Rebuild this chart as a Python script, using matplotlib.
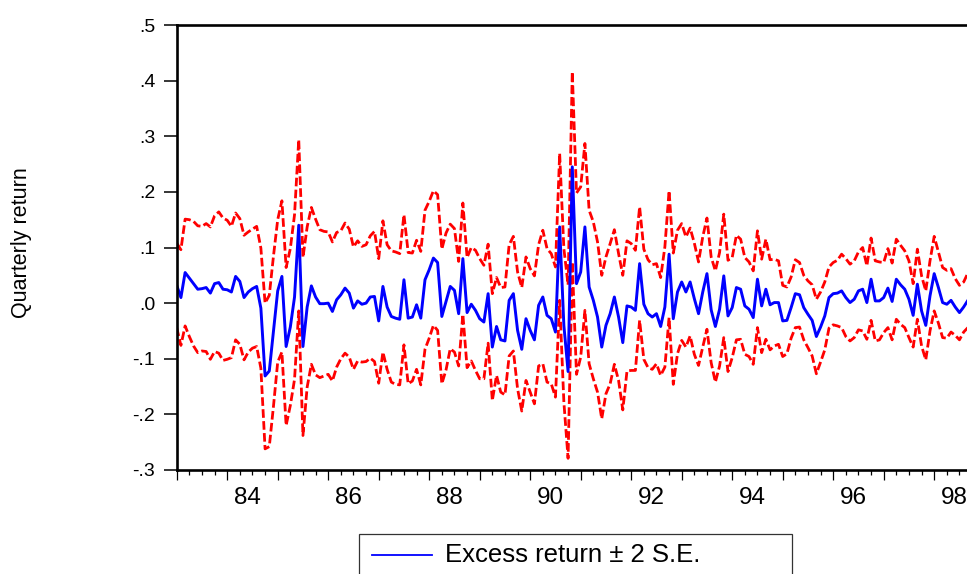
import numpy as np
import matplotlib
matplotlib.use("Agg")
import matplotlib.pyplot as plt
from matplotlib.lines import Line2D
from matplotlib.patches import Rectangle
from matplotlib.ticker import MultipleLocator

plt.rcParams['font.family'] = ['Liberation Sans', 'DejaVu Sans']

# monthly observations starting 1983M1
start_year = 1983
excess = [
    0.032, 0.010, 0.055, 0.045, 0.035, 0.025, 0.026, 0.028, 0.018, 0.035,
    0.037, 0.025, 0.024, 0.020, 0.048, 0.039, 0.010, 0.020, 0.026, 0.030,
    -0.009, -0.131, -0.122, -0.050, 0.022, 0.048, -0.078, -0.043, 0.011, 0.140,
    -0.078, -0.007, 0.031, 0.011, -0.001, -0.001, 0.000, -0.015, 0.006, 0.015,
    0.027, 0.018, -0.009, 0.004, -0.002, 0.000, 0.011, 0.012, -0.032, 0.030,
    -0.007, -0.024, -0.027, -0.029, 0.042, -0.027, -0.025, -0.003, -0.027, 0.042,
    0.060, 0.081, 0.073, -0.024, 0.003, 0.030, 0.023, -0.019, 0.080, -0.017,
    -0.002, -0.013, -0.028, -0.034, 0.017, -0.079, -0.042, -0.066, -0.068, 0.005,
    0.017, -0.049, -0.083, -0.028, -0.049, -0.066, -0.004, 0.011, -0.022, -0.028,
    -0.052, 0.137, -0.040, -0.123, 0.245, 0.035, 0.056, 0.137, 0.029, 0.005,
    -0.025, -0.079, -0.040, -0.019, 0.011, -0.025, -0.071, -0.005, -0.007, -0.013,
    0.071, -0.002, -0.019, -0.025, -0.019, -0.042, -0.007, 0.088, -0.028, 0.020,
    0.038, 0.020, 0.038, 0.008, -0.019, 0.020, 0.053, -0.012, -0.042, -0.011,
    0.049, -0.023, -0.008, 0.028, 0.025, -0.005, -0.011, -0.026, 0.043, -0.005,
    0.025, -0.003, 0.001, 0.001, -0.032, -0.031, -0.008, 0.017, 0.015, -0.008,
    -0.020, -0.031, -0.060, -0.043, -0.023, 0.010, 0.017, 0.018, 0.022, 0.010,
    0.001, 0.007, 0.022, 0.025, 0.001, 0.043, 0.004, 0.004, 0.010, 0.027,
    0.003, 0.043, 0.033, 0.025, 0.007, -0.022, 0.034, -0.014, -0.040, 0.013,
    0.053, 0.028, 0.001, -0.002, 0.005, -0.007, -0.017, -0.007, 0.005,
]
# two standard errors
two_se = [
    0.076, 0.086, 0.096, 0.105, 0.112, 0.114, 0.112, 0.115, 0.119, 0.122,
    0.127, 0.128, 0.125, 0.118, 0.114, 0.113, 0.112, 0.108, 0.107, 0.108,
    0.108, 0.131, 0.136, 0.135, 0.128, 0.136, 0.142, 0.141, 0.148, 0.154,
    0.160, 0.144, 0.141, 0.140, 0.133, 0.130, 0.128, 0.125, 0.121, 0.115,
    0.117, 0.115, 0.110, 0.108, 0.104, 0.105, 0.110, 0.117, 0.112, 0.118,
    0.112, 0.118, 0.119, 0.118, 0.117, 0.118, 0.115, 0.116, 0.120, 0.125,
    0.123, 0.121, 0.122, 0.121, 0.123, 0.112, 0.111, 0.094, 0.100, 0.099,
    0.102, 0.108, 0.108, 0.102, 0.089, 0.096, 0.088, 0.094, 0.097, 0.100,
    0.103, 0.105, 0.111, 0.111, 0.111, 0.115, 0.109, 0.120, 0.120, 0.117,
    0.117, 0.132, 0.138, 0.156, 0.171, 0.163, 0.153, 0.150, 0.138, 0.141,
    0.135, 0.129, 0.123, 0.126, 0.121, 0.114, 0.121, 0.117, 0.114, 0.108,
    0.102, 0.099, 0.097, 0.094, 0.090, 0.088, 0.108, 0.114, 0.118, 0.111,
    0.105, 0.099, 0.097, 0.100, 0.093, 0.099, 0.100, 0.095, 0.100, 0.102,
    0.111, 0.100, 0.090, 0.094, 0.090, 0.087, 0.085, 0.084, 0.087, 0.084,
    0.090, 0.081, 0.078, 0.075, 0.064, 0.060, 0.055, 0.061, 0.058, 0.058,
    0.060, 0.064, 0.067, 0.063, 0.061, 0.055, 0.056, 0.059, 0.066, 0.070,
    0.069, 0.069, 0.070, 0.075, 0.066, 0.074, 0.072, 0.070, 0.063, 0.071,
    0.069, 0.072, 0.071, 0.069, 0.069, 0.057, 0.063, 0.063, 0.062, 0.063,
    0.067, 0.064, 0.063, 0.061, 0.057, 0.051, 0.049, 0.045, 0.049,
]
label_years = [1984, 1986, 1988, 1990, 1992, 1994, 1996, 1998]
y_ticks = [-0.3, -0.2, -0.1, 0.0, 0.1, 0.2, 0.3, 0.4, 0.5]
y_labels = ["-.3", "-.2", "-.1", ".0", ".1", ".2", ".3", ".4", ".5"]

ex = np.array(excess)
se = np.array(two_se)
t = start_year + np.arange(len(ex)) / 12.0

W, H = 967, 574
fig = plt.figure(figsize=(W / 100, H / 100), dpi=100)
# axes runs past the right edge of the picture, like the original
ax = fig.add_axes([176.7 / W, 104 / H, 16 * 50.5 / W, 445 / H])

ax.plot(t, ex + se, color='#ff0000', lw=2.0, dashes=(3.1, 1.2))
ax.plot(t, ex - se, color='#ff0000', lw=2.0, dashes=(3.1, 1.2))
ax.plot(t, ex, color='#0000ff', lw=2.1)

ax.set_xlim(1983, 1999)
ax.set_ylim(-0.3, 0.5)

ax.set_yticks(y_ticks)
ax.set_yticklabels(y_labels, fontsize=14)
ax.tick_params(axis='y', direction='out', length=9.4, width=1.1, pad=6)

ax.xaxis.set_major_locator(MultipleLocator(1))
ax.xaxis.set_minor_locator(MultipleLocator(0.25))
ax.tick_params(axis='x', which='major', direction='out', length=7, width=0.9, labelbottom=False)
ax.tick_params(axis='x', which='minor', direction='out', length=3.6, width=0.9)

for yr in label_years:
    ax.annotate(f"{yr % 100:02d}", xy=(yr + 0.4, 0), xycoords=('data', 'axes fraction'),
                xytext=(0, -12.5), textcoords='offset points',
                ha='center', va='top', fontsize=17.5, annotation_clip=False)

for side in ['left', 'bottom', 'top']:
    ax.spines[side].set_linewidth(1.9)
ax.spines['right'].set_visible(False)

fig.text(22 / W, 1 - 243 / H, "Quarterly return", rotation=90,
         ha='center', va='center', fontsize=15.5)

# legend box, cut by the bottom edge as in the original
fig.patches.append(Rectangle((359 / W, -0.1), (792 - 359) / W, (574 - 534) / H + 0.1,
                             transform=fig.transFigure, fill=False,
                             edgecolor='#333333', lw=0.9))
fig.lines.append(Line2D([372 / W, 432 / W], [1 - 555 / H, 1 - 555 / H],
                        transform=fig.transFigure, color='#0000ff', lw=1.3))
fig.text(445 / W, 1 - 555 / H, "Excess return \u00b1 2 S.E.", ha='left', va='center',
         fontsize=18.5)

fig.savefig("out.png", dpi=100)
